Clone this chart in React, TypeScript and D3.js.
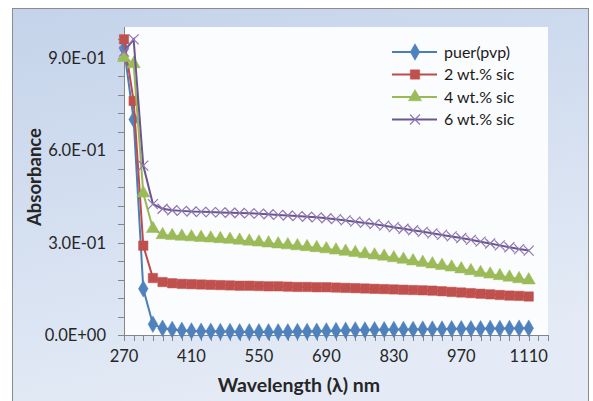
import React, { useEffect, useRef } from 'react';
import * as d3 from 'd3';

const wavelengths = [270, 290, 310, 330, 350, 370, 390, 410, 430, 450, 470, 490, 510, 530, 550, 570, 590, 610, 630, 650, 670, 690, 710, 730, 750, 770, 790, 810, 830, 850, 870, 890, 910, 930, 950, 970, 990, 1010, 1030, 1050, 1070, 1090, 1110];

const pure = [0.93, 0.70, 0.15, 0.035, 0.022, 0.018, 0.015, 0.013, 0.012, 0.012, 0.011, 0.011, 0.010, 0.010, 0.010, 0.010, 0.010, 0.010, 0.011, 0.011, 0.012, 0.013, 0.014, 0.015, 0.016, 0.016, 0.017, 0.017, 0.018, 0.018, 0.018, 0.019, 0.019, 0.019, 0.020, 0.020, 0.020, 0.020, 0.021, 0.021, 0.021, 0.022, 0.022];
const sic2 = [0.96, 0.76, 0.29, 0.185, 0.172, 0.168, 0.166, 0.165, 0.164, 0.163, 0.162, 0.161, 0.160, 0.160, 0.159, 0.158, 0.158, 0.157, 0.156, 0.156, 0.155, 0.155, 0.154, 0.153, 0.152, 0.151, 0.150, 0.149, 0.148, 0.147, 0.146, 0.145, 0.144, 0.142, 0.140, 0.138, 0.136, 0.134, 0.132, 0.130, 0.128, 0.127, 0.125];
const sic4 = [0.90, 0.88, 0.46, 0.345, 0.325, 0.322, 0.320, 0.318, 0.316, 0.314, 0.312, 0.310, 0.307, 0.304, 0.301, 0.298, 0.295, 0.292, 0.289, 0.286, 0.283, 0.279, 0.275, 0.271, 0.267, 0.263, 0.259, 0.255, 0.250, 0.245, 0.240, 0.235, 0.230, 0.225, 0.220, 0.214, 0.208, 0.202, 0.197, 0.192, 0.187, 0.182, 0.178];
const sic6 = [0.92, 0.96, 0.55, 0.425, 0.410, 0.405, 0.403, 0.401, 0.400, 0.399, 0.398, 0.397, 0.396, 0.395, 0.394, 0.392, 0.390, 0.388, 0.386, 0.384, 0.382, 0.379, 0.376, 0.372, 0.368, 0.364, 0.360, 0.355, 0.350, 0.345, 0.340, 0.335, 0.330, 0.325, 0.320, 0.315, 0.309, 0.303, 0.297, 0.291, 0.285, 0.279, 0.274];

const seriesNames = ['puer(pvp)', '2 wt.% sic', '4 wt.% sic', '6 wt.% sic'];
const xTicks = [270, 410, 550, 690, 830, 970, 1110];
const yTicks = [0, 0.3, 0.6, 0.9];
const yTickLabels = ['0.0E+00', '3.0E-01', '6.0E-01', '9.0E-01'];

const series = [
    { name: seriesNames[0], values: pure, line: '#4a7ebb', fill: '#4f81bd', marker: 'diamond' },
    { name: seriesNames[1], values: sic2, line: '#be4b48', fill: '#c0504d', marker: 'square' },
    { name: seriesNames[2], values: sic4, line: '#98b954', fill: '#9bbb59', marker: 'triangle' },
    { name: seriesNames[3], values: sic6, line: '#6b5490', fill: '#8f78b0', marker: 'x' }
];

const W = 593, H = 401;
const plot = { left: 124, right: 548, top: 27, bottom: 335 };
const font = 'Lato, "Open Sans", sans-serif';

function drawMarker(g: any, kind: string, cx: number, cy: number, s: any) {
    if (kind === 'x') {
        const r = 5;
        g.append('path')
            .attr('d', `M${cx - r},${cy - r}L${cx + r},${cy + r}M${cx - r},${cy + r}L${cx + r},${cy - r}`)
            .attr('stroke', s.fill).attr('stroke-width', 1.2).attr('fill', 'none');
        return;
    }
    const type = kind === 'diamond' ? d3.symbolDiamond : kind === 'square' ? d3.symbolSquare : d3.symbolTriangle;
    const size = kind === 'diamond' ? 80 : kind === 'square' ? 88 : 75;
    g.append('path')
        .attr('d', d3.symbol().type(type).size(size)())
        .attr('transform', `translate(${cx},${cy})`)
        .attr('fill', s.fill)
        .attr('stroke', s.fill)
        .attr('stroke-width', 0.5);
}

export default function App() {
    const ref = useRef<SVGSVGElement>(null);

    useEffect(() => {
        const svg = d3.select(ref.current);
        svg.selectAll('*').remove();

        const defs = svg.append('defs');
        const grad = defs.append('linearGradient').attr('id', 'bg').attr('x1', '0').attr('y1', '0').attr('x2', '0.3').attr('y2', '1');
        grad.append('stop').attr('offset', '0').attr('stop-color', '#c4d3ea');
        grad.append('stop').attr('offset', '1').attr('stop-color', '#e4ebf6');

        svg.append('rect').attr('width', W).attr('height', H).attr('fill', '#ffffff');
        svg.append('rect').attr('x', 12.5).attr('y', 8.5).attr('width', 576).attr('height', 400)
            .attr('fill', 'url(#bg)').attr('stroke', '#8c8c8c').attr('stroke-width', 1);

        svg.append('rect').attr('x', plot.left).attr('y', plot.top)
            .attr('width', plot.right - plot.left).attr('height', plot.bottom - plot.top)
            .attr('fill', '#fbfcfe');

        const x = d3.scaleLinear().domain([270, 1150]).range([plot.left, plot.right]);
        const y = d3.scaleLinear().domain([0, 1]).range([plot.bottom, plot.top]);

        const axes = svg.append('g').attr('stroke', '#868686').attr('stroke-width', 1);
        axes.append('line').attr('x1', plot.left + 0.5).attr('x2', plot.left + 0.5).attr('y1', plot.top).attr('y2', plot.bottom);
        axes.append('line').attr('x1', plot.left).attr('x2', plot.right).attr('y1', plot.bottom + 0.5).attr('y2', plot.bottom + 0.5);

        d3.range(0, 1.0001, 0.06).forEach(v => {
            const yy = Math.round(y(v)) + 0.5;
            axes.append('line').attr('x1', plot.left - 6).attr('x2', plot.left).attr('y1', yy).attr('y2', yy);
        });
        d3.range(270, 1151, 20).forEach(v => {
            const xx = Math.round(x(v)) + 0.5;
            axes.append('line').attr('x1', xx).attr('x2', xx).attr('y1', plot.bottom).attr('y2', plot.bottom + 6);
        });

        svg.append('g').selectAll('text').data(yTicks).enter().append('text')
            .attr('x', 106).attr('y', d => y(d)).attr('dy', '0.36em')
            .attr('text-anchor', 'end').attr('font-family', font).attr('font-size', 16.5)
            .attr('fill', '#262626').text((d, i) => yTickLabels[i]);

        svg.append('g').selectAll('text').data(xTicks).enter().append('text')
            .attr('x', d => x(d)).attr('y', 362)
            .attr('text-anchor', 'middle').attr('font-family', font).attr('font-size', 16.5)
            .attr('fill', '#262626').text(d => String(d));

        svg.append('text').attr('x', 299).attr('y', 392).attr('text-anchor', 'middle')
            .attr('font-family', font).attr('font-weight', 'bold').attr('font-size', 19.5)
            .attr('fill', '#262626').text('Wavelength (λ) nm');

        svg.append('text').attr('transform', 'translate(41,177) rotate(-90)').attr('text-anchor', 'middle')
            .attr('font-family', font).attr('font-weight', 'bold').attr('font-size', 18.5)
            .attr('fill', '#262626').text('Absorbance');

        const line = d3.line<number>().x((d, i) => x(wavelengths[i])).y(d => y(d));

        series.forEach(s => {
            const g = svg.append('g');
            g.append('path').datum(s.values).attr('d', line)
                .attr('fill', 'none').attr('stroke', s.line).attr('stroke-width', 2);
            s.values.forEach((v, i) => drawMarker(g, s.marker, x(wavelengths[i]), y(v), s));
        });

        const legend = svg.append('g');
        series.forEach((s, i) => {
            const ly = 52 + i * 22.5;
            legend.append('line').attr('x1', 392).attr('x2', 437).attr('y1', ly).attr('y2', ly)
                .attr('stroke', s.line).attr('stroke-width', 2);
            drawMarker(legend, s.marker, 415, ly, s);
            legend.append('text').attr('x', 444).attr('y', ly).attr('dy', '0.35em')
                .attr('font-family', font).attr('font-size', 16)
                .attr('fill', '#1a1a1a').text(s.name);
        });
    }, []);

    return <svg ref={ref} width={W} height={H} style={{ display: 'block', position: 'absolute', left: 0, top: 0 }} />;
}
